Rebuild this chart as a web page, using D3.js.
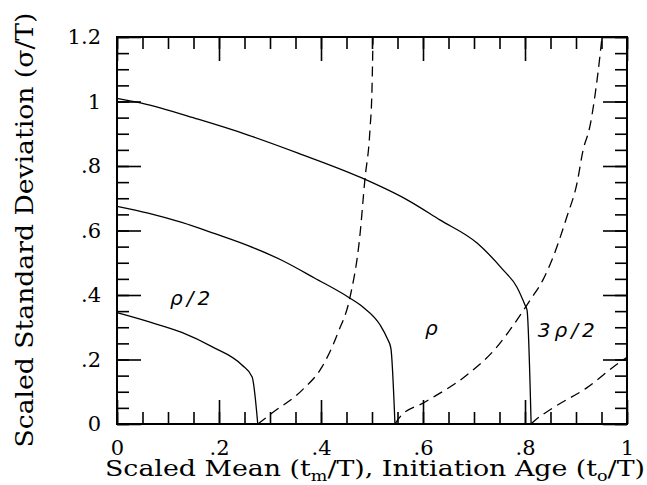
<!DOCTYPE html>
<html>
<head>
<meta charset="utf-8">
<script src="https://cdn.jsdelivr.net/npm/d3@7"></script>
<style>
  body { margin: 0; background: #fff; }
  svg { display: block; }
</style>
</head>
<body>
<svg id="chart" width="647" height="485"></svg>
<script>

// scaled mean (solid) curves, [t_m/T, sigma/T]
var meanHalf = [[0, 0.345], [0.06, 0.318], [0.127, 0.284], [0.186, 0.24], [0.245, 0.183],
                [0.265, 0.146], [0.276, 0]];
var meanOne = [[0, 0.675], [0.061, 0.654], [0.127, 0.625], [0.192, 0.59], [0.257, 0.553],
               [0.324, 0.507], [0.388, 0.452], [0.453, 0.394], [0.482, 0.363], [0.516, 0.307],
               [0.53, 0.265], [0.537, 0.235], [0.545, 0]];
var meanThreeHalf = [[0, 1.01], [0.048, 0.995], [0.159, 0.945], [0.257, 0.896], [0.355, 0.84],
                     [0.48, 0.763], [0.569, 0.695], [0.633, 0.633], [0.706, 0.561], [0.757, 0.478],
                     [0.784, 0.425], [0.8, 0.369], [0.804, 0.353], [0.812, 0]];

// initiation age (dashed) curves, [t_o/T, sigma/T]
var initHalf = [[0.276, 0], [0.304, 0.034], [0.363, 0.105], [0.402, 0.177], [0.433, 0.282],
                [0.457, 0.394], [0.476, 0.58], [0.486, 0.757], [0.496, 0.912], [0.5, 1.04], [0.502, 1.2]];
var initOne = [[0.545, 0], [0.555, 0.022], [0.604, 0.068], [0.686, 0.152], [0.745, 0.239],
               [0.78, 0.313], [0.81, 0.384], [0.835, 0.446], [0.853, 0.509], [0.882, 0.642],
               [0.902, 0.747], [0.914, 0.85], [0.927, 0.921], [0.943, 1.088], [0.951, 1.2]];
var initThreeHalf = [[0.812, 0], [0.816, 0.006], [0.855, 0.05], [0.921, 0.112], [0.986, 0.192], [1.0, 0.207]];

var xMajor = [0, 0.2, 0.4, 0.6, 0.8, 1];
var yMajor = [0, 0.2, 0.4, 0.6, 0.8, 1, 1.2];
var xMinor = d3.range(0, 1.0001, 0.05);
var yMinor = d3.range(0, 1.2001, 0.05);

var labels = [{text: "\u03c1/2", x: 0.104, y: 0.369},
              {text: "\u03c1", x: 0.604, y: 0.277},
              {text: "3\u03c1/2", x: 0.825, y: 0.271}];

var chart = {};

function fmt(d) {
    if (d === 0) return "0";
    return String(+d.toFixed(1)).replace(/^0\./, ".");
}

function setup() {
    chart.margin = {top: 37, right: 20, bottom: 61, left: 117};
    chart.width = 627 - chart.margin.left;
    chart.height = 424 - chart.margin.top;

    chart.svg = d3.select("#chart")
                  .append("g")
                  .attr("transform", "translate(" + chart.margin.left + "," + chart.margin.top + ")");

    chart.x = d3.scaleLinear().domain([0, 1]).range([0, chart.width]);
    chart.y = d3.scaleLinear().domain([0, 1.2]).range([chart.height, 0]);

    var serif = "DejaVu Serif";

    // ticks, all pointing inward; minor ones carry no text
    function ticks(axis, scale, values, size, labelled, pad, shift) {
        var g = chart.svg.append("g");
        if (shift) g.attr("transform", shift);
        g.call(axis(scale).tickValues(values).tickSize(-size).tickPadding(pad || 3).tickFormat(fmt))
         .attr("font-family", serif)
         .attr("font-size", 21);
        if (!labelled) g.selectAll("text").remove();
        return g;
    }
    var bottom = "translate(0," + chart.height + ")";
    var right = "translate(" + chart.width + ",0)";

    ticks(d3.axisBottom, chart.x, xMinor, 12, false, 3, bottom);
    ticks(d3.axisBottom, chart.x, xMajor, 24, true, 16, bottom);
    ticks(d3.axisTop, chart.x, xMinor, 12, false);
    ticks(d3.axisTop, chart.x, xMajor, 24, false);
    ticks(d3.axisLeft, chart.y, yMinor, 12, false);
    ticks(d3.axisLeft, chart.y, yMajor, 24, true, 16);
    ticks(d3.axisRight, chart.y, yMinor, 12, false, 3, right);
    ticks(d3.axisRight, chart.y, yMajor, 24, false, 3, right);

    chart.svg.selectAll(".domain").remove();
    chart.svg.selectAll(".tick line").attr("stroke", "#000").attr("stroke-width", 1.6);
    chart.svg.selectAll(".tick text").attr("fill", "#000");

    chart.svg.append("rect")
         .attr("width", chart.width).attr("height", chart.height)
         .attr("fill", "none").attr("stroke", "#000").attr("stroke-width", 2);

    // curves
    var line = d3.line().x(d => chart.x(d[0])).y(d => chart.y(d[1])).curve(d3.curveMonotoneX);

    chart.svg.append("g")
         .attr("fill", "none").attr("stroke", "#000").attr("stroke-width", 1.3)
         .selectAll("path")
         .data([meanHalf, meanOne, meanThreeHalf])
         .join("path")
         .attr("d", line);

    chart.svg.append("g")
         .attr("fill", "none").attr("stroke", "#000").attr("stroke-width", 1.3)
         .attr("stroke-dasharray", "10,6")
         .selectAll("path")
         .data([initHalf, initOne, initThreeHalf])
         .join("path")
         .attr("d", line);

    chart.svg.append("g")
         .selectAll("text")
         .data(labels)
         .join("text")
         .attr("x", d => chart.x(d.x))
         .attr("y", d => chart.y(d.y))
         .attr("font-family", "DejaVu Sans")
         .attr("font-style", "oblique")
         .attr("font-size", 20)
         .attr("letter-spacing", 4)
         .text(d => d.text);

    // axis titles
    var svg = d3.select("#chart");
    var xt = svg.append("text")
         .attr("x", 375).attr("y", 476)
         .attr("text-anchor", "middle")
         .attr("font-family", serif).attr("font-size", 23)
         .attr("textLength", 540).attr("lengthAdjust", "spacingAndGlyphs");
    xt.append("tspan").text("Scaled Mean (t");
    xt.append("tspan").attr("font-size", 15).attr("dy", 5).text("m");
    xt.append("tspan").attr("dy", -5).text("/T), Initiation Age (t");
    xt.append("tspan").attr("font-size", 15).attr("dy", 5).text("o");
    xt.append("tspan").attr("dy", -5).text("/T)");

    svg.append("text")
         .attr("transform", "translate(33,230) rotate(-90)")
         .attr("text-anchor", "middle")
         .attr("font-family", serif).attr("font-size", 24)
         .attr("textLength", 435).attr("lengthAdjust", "spacingAndGlyphs")
         .text("Scaled Standard Deviation (\u03c3/T)");
}

window.addEventListener('load', setup);
</script>
</body>
</html>
